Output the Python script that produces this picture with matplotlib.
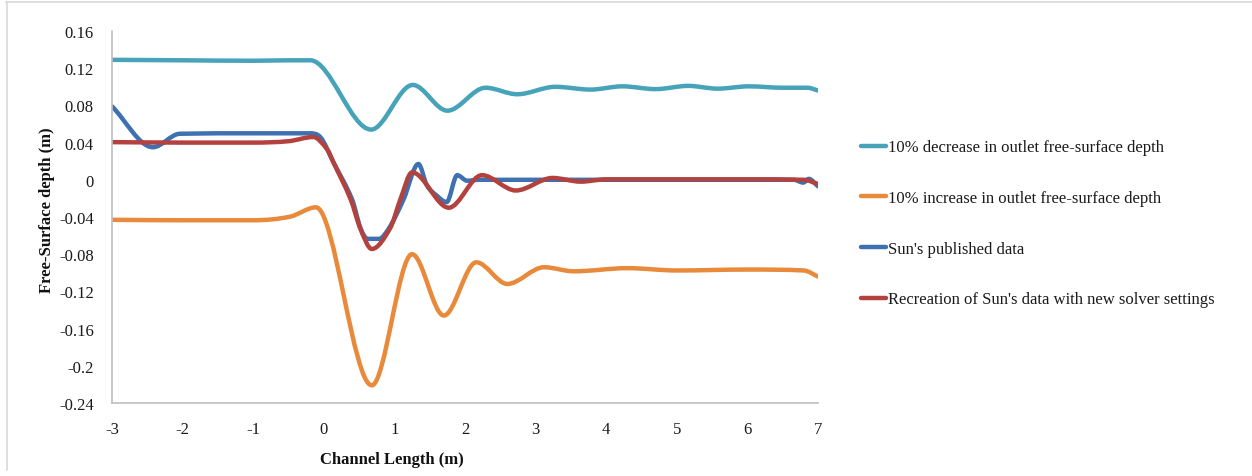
import matplotlib
matplotlib.use("Agg")
import matplotlib.pyplot as plt
import numpy as np
from matplotlib.path import Path
from matplotlib.patches import PathPatch
from matplotlib.lines import Line2D

# ---------------- data ----------------
dec_x = [-3, -2, -1, -0.5, -0.19, 0.67, 1.26, 1.75, 2.29, 2.74, 3.28, 3.78, 4.23,
         4.70, 5.16, 5.58, 6.02, 6.5, 6.85, 7.0]
dec_y = [0.129, 0.1285, 0.128, 0.1285, 0.1285, 0.054, 0.102, 0.0743, 0.099, 0.092,
         0.100, 0.097, 0.1005, 0.0975, 0.101, 0.098, 0.1005, 0.099, 0.099, 0.096]

inc_x = [-3, -2, -1, -0.48, -0.11, 0.68, 1.25, 1.70, 2.16, 2.60, 3.12, 3.54, 4.3,
         5.0, 6.0, 6.8, 7.0]
inc_y = [-0.043, -0.0435, -0.0435, -0.0397, -0.0296, -0.221, -0.080, -0.146, -0.0887,
         -0.112, -0.094, -0.0984, -0.095, -0.0975, -0.0965, -0.0975, -0.104]

sun_x = [-3, -2.42, -2.04, -1.0, -0.2, -0.05, 0.135, 0.40, 0.52, 0.62, 0.78, 0.94,
         1.13, 1.34, 1.46, 1.60, 1.74, 1.89, 2.03, 2.2, 3.0, 4.0, 5.0, 6.0, 6.66,
         6.79, 6.87, 7.0]
sun_y = [0.079, 0.035, 0.0495, 0.050, 0.050, 0.046, 0.019, -0.021, -0.052, -0.0635,
         -0.0635, -0.050, -0.021, 0.017, -0.006, -0.017, -0.024, 0.005, -0.001,
         0.000, 0.000, 0.000, 0.000, 0.000, 0.000, -0.003, 0.001, -0.007]

rec_x = [-3, -2, -1, -0.5, -0.15, 0.045, 0.135, 0.38, 0.52, 0.68, 0.94, 1.085, 1.25,
         1.77, 2.24, 2.72, 3.24, 3.64, 4.0, 5.0, 6.0, 6.8, 7.0]
rec_y = [0.0405, 0.040, 0.040, 0.0415, 0.046, 0.033, 0.019, -0.021, -0.053, -0.0744,
         -0.052, -0.021, 0.008, -0.030, 0.005, -0.0115, 0.002, -0.002, 0.0005,
         0.0005, 0.0005, 0.000, -0.0045]

labels = ["10% decrease in outlet free-surface depth",
          "10% increase in outlet free-surface depth",
          "Sun's published data",
          "Recreation of Sun's data with new solver settings"]
colors = ["#47a3b9", "#e9893b", "#3f70b1", "#b3413e"]

x_ticks = [-3, -2, -1, 0, 1, 2, 3, 4, 5, 6, 7]
y_ticks = [-0.24, -0.2, -0.16, -0.12, -0.08, -0.04, 0, 0.04, 0.08, 0.12, 0.16]
y_tick_labels = ["-0.24", "-0.2", "-0.16", "-0.12", "-0.08", "-0.04", "0",
                 "0.04", "0.08", "0.12", "0.16"]

# ---------------- drawing ----------------
plt.rcParams['font.family'] = ['Liberation Serif', 'DejaVu Serif']
FS = 12
LW = 3.2

fig = plt.figure(figsize=(12.52, 4.77), dpi=100)
ax = fig.add_axes([112/1252, 1-404/477, (818-112)/1252, (404-32)/477])


def smooth_path(xs, ys):
    """Smoothed line through the read points (cubic Bezier segments in x,
    flat tangents at turning points, limited tangents elsewhere)."""
    x = np.asarray(xs, float)
    y = np.asarray(ys, float)
    n = len(x)
    d = np.diff(y) / np.diff(x)
    m = np.empty(n)
    m[0] = d[0]
    m[-1] = d[-1]
    for i in range(1, n - 1):
        if d[i - 1] * d[i] <= 0:
            m[i] = 0.0
        else:
            s = (y[i + 1] - y[i - 1]) / (x[i + 1] - x[i - 1])
            lim = 3 * min(abs(d[i - 1]), abs(d[i]))
            m[i] = np.sign(s) * min(abs(s), lim)
    verts = [(x[0], y[0])]
    codes = [Path.MOVETO]
    for i in range(n - 1):
        dx = x[i + 1] - x[i]
        verts += [(x[i] + dx / 3, y[i] + m[i] * dx / 3),
                  (x[i + 1] - dx / 3, y[i + 1] - m[i + 1] * dx / 3),
                  (x[i + 1], y[i + 1])]
        codes += [Path.CURVE4] * 3
    return Path(verts, codes)


series = [(dec_x, dec_y), (inc_x, inc_y), (sun_x, sun_y), (rec_x, rec_y)]
for (xs, ys), c in zip(series, colors):
    patch = PathPatch(smooth_path(xs, ys), facecolor='none', edgecolor=c,
                      lw=LW, capstyle='round', joinstyle='round',
                      transform=ax.transData)
    ax.add_patch(patch)

ax.set_xlim(-3, 7)
ax.set_ylim(-0.24, 0.16)
ax.set_xticks(x_ticks)
ax.set_xticklabels([str(t) for t in x_ticks])
ax.set_yticks(y_ticks)
ax.set_yticklabels(y_tick_labels)
ax.tick_params(axis='both', length=0, labelsize=FS, colors='#1a1a1a')
ax.tick_params(axis='y', pad=13)
ax.tick_params(axis='x', pad=13)

for s in ['top', 'right']:
    ax.spines[s].set_visible(False)
for s in ['left', 'bottom']:
    ax.spines[s].set_color('#bfbfbf')
    ax.spines[s].set_linewidth(1.2)

ax.set_xlabel("Channel Length (m)", fontsize=FS, fontweight='bold', color='#111111')
ax.set_ylabel("Free-Surface depth (m)", fontsize=FS, fontweight='bold', color='#111111')
ax.xaxis.set_label_coords(0.397, -0.13)
ax.yaxis.set_label_coords(-0.081, 0.52)

handles = [Line2D([0], [0], color=c, lw=LW, solid_capstyle='round') for c in colors]
fig.legend(handles, labels, loc='center left',
           bbox_to_anchor=(861/1252, 1-224.5/477), frameon=False,
           fontsize=FS, handlelength=1.5, handletextpad=0.1,
           labelspacing=2.08, borderpad=0, borderaxespad=0, labelcolor='#1a1a1a')

# outer chart border (top and left visible)
fig.add_artist(Line2D([6/1252, 1.0], [1-2.5/477, 1-2.5/477], color='#d9d9d9',
                      lw=1.2, transform=fig.transFigure))
fig.add_artist(Line2D([6.5/1252, 6.5/1252], [1-2.5/477, 6/477], color='#d9d9d9',
                      lw=1.2, transform=fig.transFigure))

fig.savefig("out.png", dpi=100, facecolor='white')
